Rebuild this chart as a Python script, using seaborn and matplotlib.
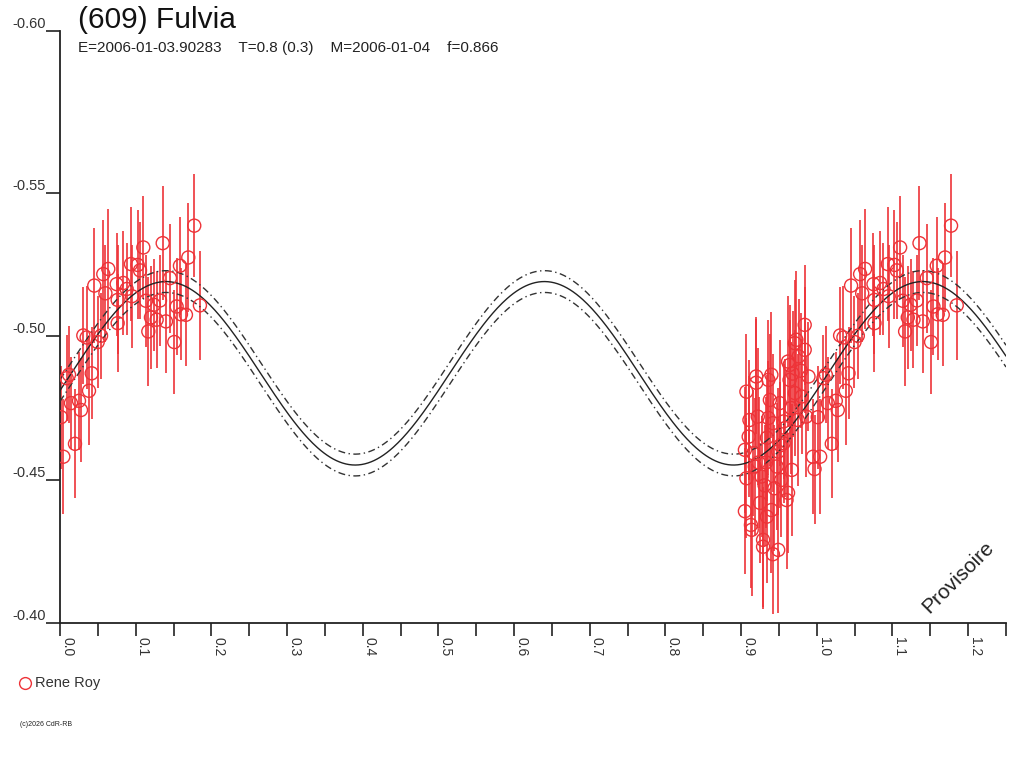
import numpy as np
import pandas as pd
import matplotlib
matplotlib.use("Agg")
import matplotlib.pyplot as plt
import seaborn as sns

# ---------------- data ----------------
title = "(609) Fulvia"
subtitle = "E=2006-01-03.90283    T=0.8 (0.3)    M=2006-01-04    f=0.866"
observer = "Rene Roy"
copyright_text = "(c)2026 CdR-RB"
watermark = "Provisoire"

# observations: rotational phase, relative magnitude, 1-sigma error
phase_a = [0.0013, 0.0044, 0.0198, 0.0145, 0.0251, 0.0277, 0.0088, 0.0119, 0.0383, 0.0419,
           0.0308, 0.0352, 0.0498, 0.0542, 0.0453, 0.0572, 0.0638, 0.0749, 0.0762, 0.0762,
           0.0836, 0.0881, 0.0938, 0.1026, 0.1101, 0.1057, 0.1136, 0.1202, 0.1167, 0.1277,
           0.1400, 0.1321, 0.1357, 0.1453, 0.1510, 0.1541, 0.1598, 0.1664, 0.1585, 0.1695,
           0.1774, 0.1849, 0.0600, 0.0950, 0.1240]
mag_a = [-0.4718, -0.4580, -0.4625, -0.4767, -0.4775, -0.4743, -0.4854, -0.4866, -0.4810, -0.4871,
         -0.5003, -0.4996, -0.4980, -0.5002, -0.5177, -0.5217, -0.5235, -0.5182, -0.5046, -0.5127,
         -0.5186, -0.5165, -0.5252, -0.5249, -0.5310, -0.5230, -0.5124, -0.5066, -0.5017, -0.5058,
         -0.5052, -0.5125, -0.5325, -0.5203, -0.4980, -0.5104, -0.5077, -0.5075, -0.5246, -0.5275,
         -0.5386, -0.5108, -0.5150, -0.5140, -0.5110]
err_a = [0.018, 0.020, 0.019, 0.016, 0.017, 0.018, 0.015, 0.017, 0.019, 0.016,
         0.017, 0.018, 0.016, 0.015, 0.020, 0.019, 0.021, 0.018, 0.017, 0.019,
         0.018, 0.016, 0.020, 0.019, 0.018, 0.017, 0.016, 0.018, 0.019, 0.017,
         0.018, 0.016, 0.020, 0.019, 0.018, 0.017, 0.016, 0.018, 0.017, 0.019,
         0.018, 0.019, 0.017, 0.018, 0.016]

phase_b = [0.907, 0.905, 0.907, 0.914, 0.913, 0.929, 0.929, 0.949, 0.920, 0.920,
           0.936, 0.940, 0.922, 0.936, 0.934, 0.925, 0.934, 0.940, 0.960, 0.962,
           0.949, 0.956, 0.962, 0.964, 0.971, 0.973, 0.984, 0.984, 0.980, 0.986,
           0.975, 0.971, 0.964, 0.942, 0.947, 0.953, 0.967, 0.956, 0.916, 0.918,
           0.927, 0.951, 0.938, 0.911, 0.995, 0.997, 0.905, 0.942, 0.933, 0.968,
           0.976, 0.958, 0.944, 0.910, 0.923, 0.979, 0.989, 0.952, 0.931, 0.966]
mag_b = [-0.4807, -0.4604, -0.4505, -0.4325, -0.4342, -0.4290, -0.4266, -0.4255, -0.4860, -0.4838,
         -0.4848, -0.4866, -0.4720, -0.4715, -0.4646, -0.4419, -0.4371, -0.4394, -0.4429, -0.4454,
         -0.4598, -0.4703, -0.4912, -0.4900, -0.4976, -0.4988, -0.5040, -0.4953, -0.4790, -0.4720,
         -0.4708, -0.4802, -0.4848, -0.4697, -0.4546, -0.4499, -0.4534, -0.4627, -0.4592, -0.4546,
         -0.4511, -0.4767, -0.4778, -0.4708, -0.4580, -0.4537, -0.4390, -0.4240, -0.4560, -0.4870,
         -0.4930, -0.4680, -0.4470, -0.4650, -0.4560, -0.4880, -0.4860, -0.4620, -0.4480, -0.4750]
err_b = [0.020, 0.022, 0.021, 0.023, 0.022, 0.024, 0.021, 0.022, 0.020, 0.023,
         0.021, 0.022, 0.024, 0.020, 0.022, 0.021, 0.023, 0.022, 0.024, 0.021,
         0.022, 0.020, 0.023, 0.021, 0.022, 0.024, 0.021, 0.022, 0.020, 0.021,
         0.023, 0.022, 0.021, 0.024, 0.022, 0.020, 0.023, 0.021, 0.022, 0.024,
         0.021, 0.022, 0.023, 0.021, 0.020, 0.019, 0.022, 0.021, 0.023, 0.022,
         0.020, 0.024, 0.022, 0.021, 0.023, 0.020, 0.019, 0.022, 0.021, 0.023]

# fitted Fourier model (2nd harmonic) and its uncertainty envelope
fit_mean = -0.4871
fit_amp = 0.0320
fit_phase0 = 0.140
fit_harmonic = 2
fit_sigma = 0.0038

x_ticks = [0.0, 0.1, 0.2, 0.3, 0.4, 0.5, 0.6, 0.7, 0.8, 0.9, 1.0, 1.1, 1.2]
x_tick_labels = ["0.0", "0.1", "0.2", "0.3", "0.4", "0.5", "0.6", "0.7", "0.8", "0.9", "1.0", "1.1", "1.2"]
y_ticks = [-0.6065, -0.55, -0.50, -0.45, -0.40]
y_tick_labels = ["-0.60", "-0.55", "-0.50", "-0.45", "-0.40"]
x_max = 1.25

# ---------------- build tables ----------------
obs = pd.DataFrame({
    "phase": phase_a + phase_b,
    "mag": mag_a + mag_b,
    "err": err_a + err_b,
})
wrap = obs[obs["phase"] + 1 <= x_max].copy()
wrap["phase"] = wrap["phase"] + 1
obs_all = pd.concat([obs, wrap], ignore_index=True)

ph = np.linspace(0, x_max, 600)
base = fit_mean - fit_amp * np.cos(2 * np.pi * fit_harmonic * (ph - fit_phase0))
model = pd.DataFrame({"phase": ph, "mid": base,
                      "hi": base - fit_sigma, "lo": base + fit_sigma})

# ---------------- plot ----------------
sns.set_style("white")
plt.rcParams["font.family"] = ["Liberation Sans", "DejaVu Sans"]

fig = plt.figure(figsize=(10.24, 7.68), dpi=100)
W, H = 1024, 768
ax = fig.add_axes([60 / W, 1 - 623 / H, (1006 - 60) / W, (623 - 31) / H])

red = "#EE3338"
sns.lineplot(data=model, x="phase", y="mid", ax=ax, color="#222222", lw=1.0, zorder=3)
for col in ["hi", "lo"]:
    sns.lineplot(data=model, x="phase", y=col, ax=ax, color="#333333", lw=1.0,
                 dashes=False, zorder=3, linestyle=(0, (5, 2.5, 1, 2.5)))

ax.errorbar(obs_all["phase"], obs_all["mag"], yerr=obs_all["err"], fmt="none",
            ecolor=red, elinewidth=1.2, capsize=0, zorder=2)
sns.scatterplot(data=obs_all, x="phase", y="mag", ax=ax, marker="o", s=88,
                facecolor="none", edgecolor=red, linewidth=1.0, zorder=4, legend=False)

ax.set_xlim(0, x_max)
ax.set_ylim(-0.40, -0.6065)
ax.set_xlabel("")
ax.set_ylabel("")

for s in ["top", "right"]:
    ax.spines[s].set_visible(False)
for s in ["left", "bottom"]:
    ax.spines[s].set_color("#222222")
    ax.spines[s].set_linewidth(1.3)

ax.set_xticks(x_ticks)
ax.set_xticklabels(x_tick_labels, rotation=-90, fontsize=10, color="#333333")
for lab in ax.get_xticklabels():
    lab.set_ha("left")
ax.set_xticks(np.arange(0.05, x_max + 0.001, 0.1), minor=True)
ax.tick_params(axis="x", which="both", direction="out", length=9, width=1.2,
               color="#222222", bottom=True, pad=1)
ax.set_yticks(y_ticks)
ax.set_yticklabels(y_tick_labels, fontsize=10.5, color="#333333")
ax.tick_params(axis="y", which="major", direction="out", length=10, width=1.2,
               color="#222222", left=True, pad=0)
for lab in ax.get_yticklabels():
    lab.set_va("bottom")

# texts
fig.text(78 / W, 1 - 20 / H, title, fontsize=21.5, va="center", ha="left", color="#111111")
fig.text(78 / W, 1 - 48 / H, subtitle, fontsize=11, va="center", ha="left", color="#222222")
fig.text(958 / W, 1 - 577 / H, watermark, fontsize=15, rotation=45, ha="center",
         va="center", color="#222222")

# legend below the axes
fig.lines.append(plt.Line2D([25 / W], [1 - 683 / H], marker="o", markersize=8.5,
                            markerfacecolor="none", markeredgecolor=red,
                            markeredgewidth=1.0, transform=fig.transFigure))
fig.text(35 / W, 1 - 683 / H, observer, fontsize=10.5, va="center", ha="left", color="#333333")
fig.text(20 / W, 1 - 724 / H, copyright_text, fontsize=5, va="center", ha="left", color="#222222")

fig.savefig("out.png", dpi=100)
